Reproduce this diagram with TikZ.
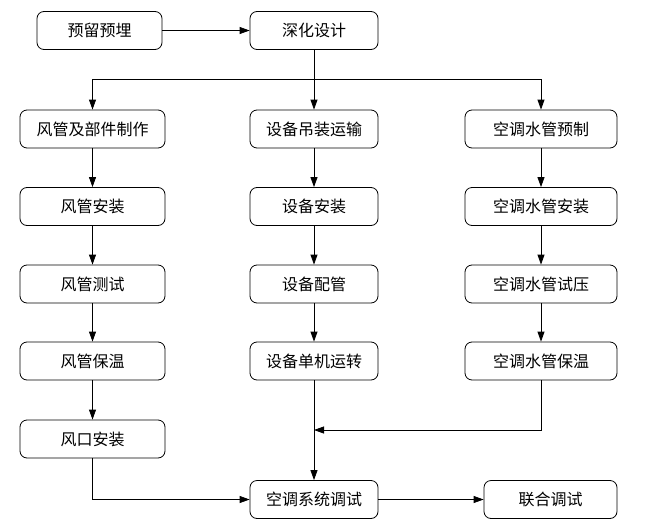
\documentclass[tikz,border=0pt]{standalone}
\usepackage{fontspec}
\newfontfamily\cjk{Noto Sans CJK SC}[Scale=1]
\usetikzlibrary{arrows.meta}
\begin{document}
\begin{tikzpicture}[x=1pt,y=-1pt,
  box/.style={draw,line width=0.8pt,rounded corners=7pt,minimum height=38pt,inner sep=0pt,font=\cjk\fontsize{16}{16}\selectfont},
  arr/.style={line width=0.8pt,-{Triangle[length=10pt,width=7pt]}},
  ln/.style={line width=0.8pt}]
\useasboundingbox (0,0) rectangle (672,525);
\node[box,minimum width=125pt] (a) at (99.5,30.5) {预留预埋};
\node[box,minimum width=128pt] (b) at (314,30.5) {深化设计};
\node[box,minimum width=145pt] (l1) at (92.5,129) {风管及部件制作};
\node[box,minimum width=145pt] (l2) at (92.5,206.5) {风管安装};
\node[box,minimum width=145pt] (l3) at (92.5,284) {风管测试};
\node[box,minimum width=145pt] (l4) at (92.5,361) {风管保温};
\node[box,minimum width=145pt] (l5) at (92.5,439) {风口安装};
\node[box,minimum width=128pt] (m1) at (314,129) {设备吊装运输};
\node[box,minimum width=128pt] (m2) at (314,206.5) {设备安装};
\node[box,minimum width=128pt] (m3) at (314,284) {设备配管};
\node[box,minimum width=128pt] (m4) at (314,361) {设备单机运转};
\node[box,minimum width=152pt] (r1) at (541,129) {空调水管预制};
\node[box,minimum width=152pt] (r2) at (541,206.5) {空调水管安装};
\node[box,minimum width=152pt] (r3) at (541,284) {空调水管试压};
\node[box,minimum width=152pt] (r4) at (541,361) {空调水管保温};
\node[box,minimum width=128pt] (s) at (314,499.5) {空调系统调试};
\node[box,minimum width=133pt] (t) at (550.5,499.5) {联合调试};
\coordinate (j) at (314,430);
\draw[arr] (a) -- (b);
\draw[arr] (b) -- (m1);
\draw[arr] (b.south) |- (92.5,79) -- (l1);
\draw[arr] (b.south) |- (541,79) -- (r1);
\draw[arr] (l1) -- (l2);
\draw[arr] (l2) -- (l3);
\draw[arr] (l3) -- (l4);
\draw[arr] (l4) -- (l5);
\draw[arr] (m1) -- (m2);
\draw[arr] (m2) -- (m3);
\draw[arr] (m3) -- (m4);
\draw[arr] (r1) -- (r2);
\draw[arr] (r2) -- (r3);
\draw[arr] (r3) -- (r4);
\draw[arr] (m4) -- (s);
\draw[arr] (r4.south) |- (j);
\draw[arr] (l5.south) |- (s.west);
\draw[arr] (s) -- (t);
\end{tikzpicture}
\end{document}
